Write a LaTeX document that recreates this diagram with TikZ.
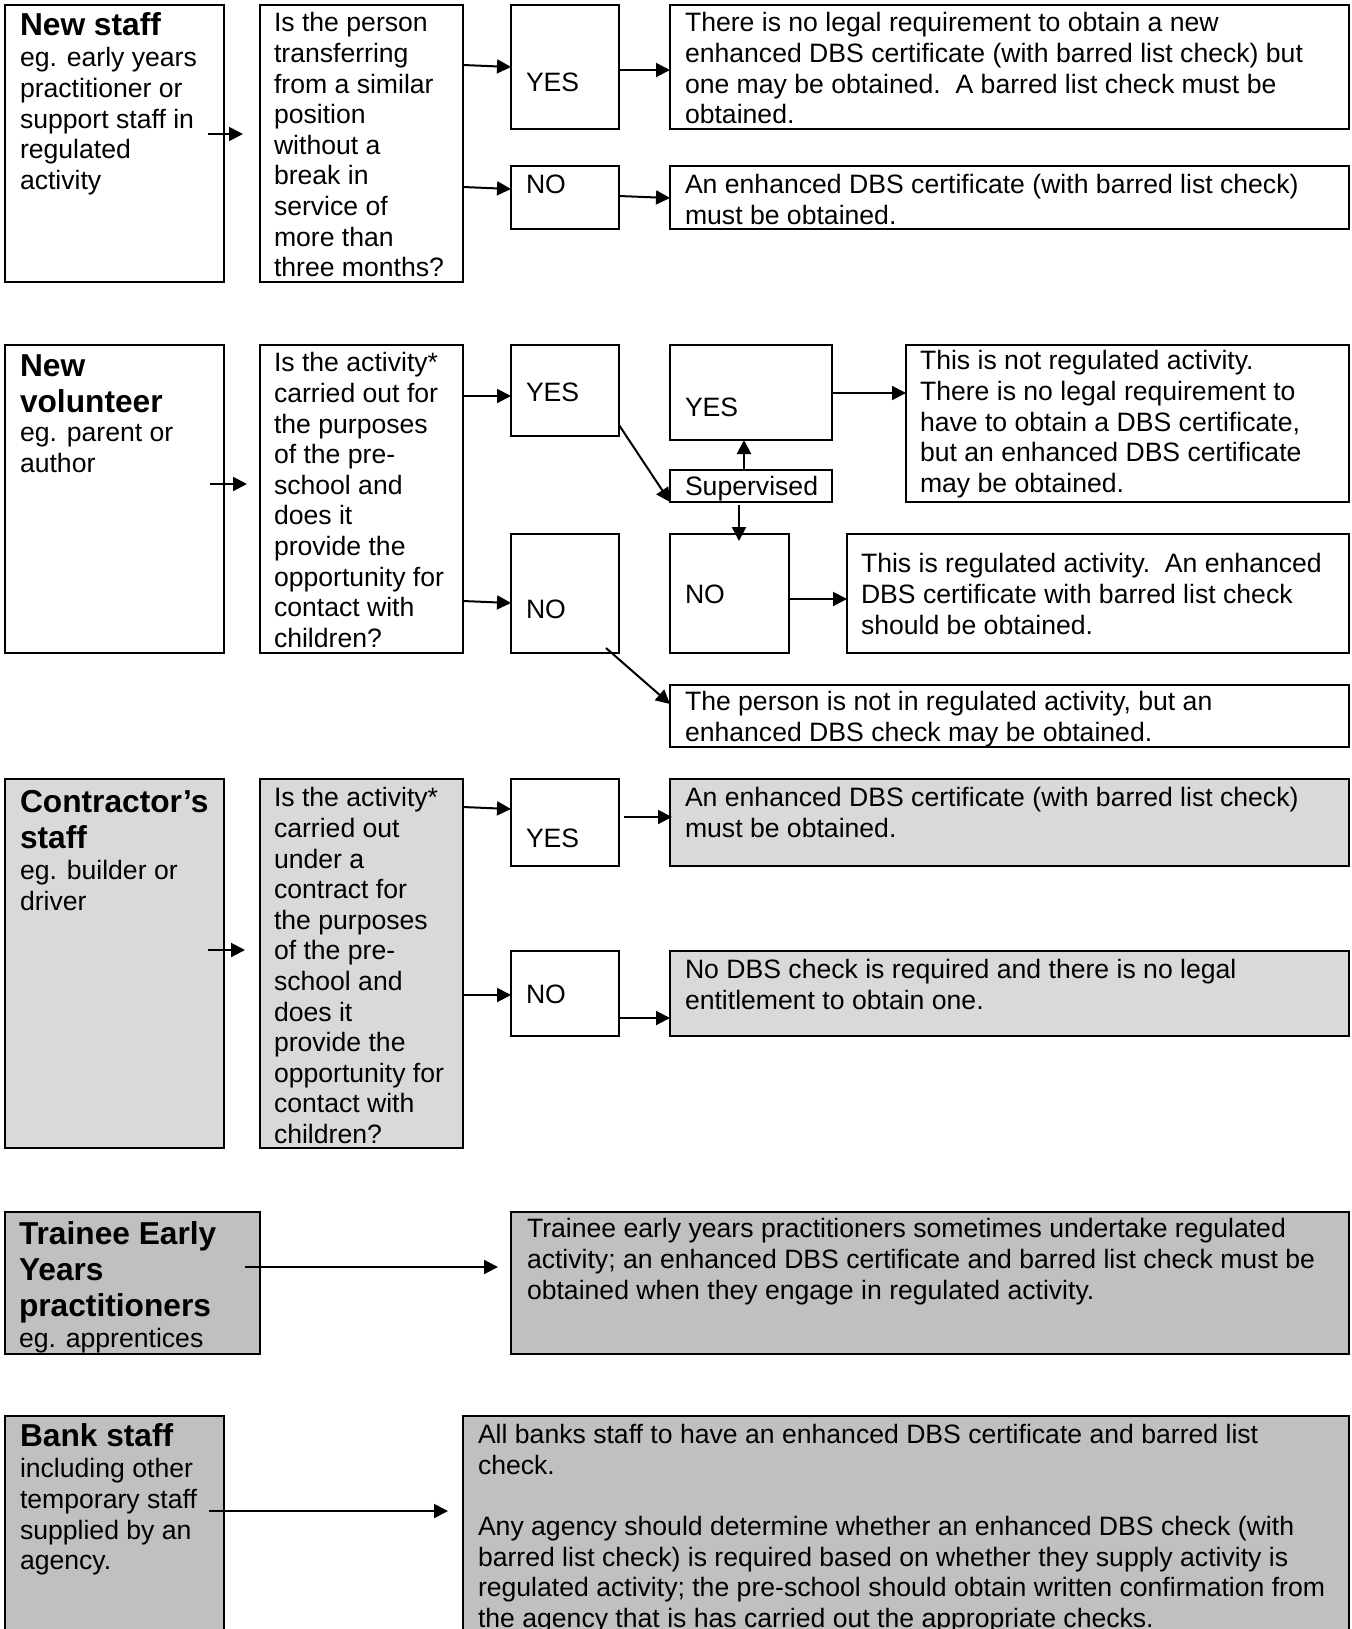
\documentclass[tikz,border=0pt]{standalone}
\usepackage{fontspec}
\setmainfont{Liberation Sans}
\usetikzlibrary{arrows.meta}
\definecolor{lightfill}{RGB}{217,217,217}
\definecolor{midfill}{RGB}{192,192,192}
\newcommand\bx[6]{\node[box,fill=#6,minimum width={(#4-#2)*0.5pt},minimum height={(#5-#3)*0.5pt}] (#1) at (#2,#3) {};}
\begin{document}
\begin{tikzpicture}[x=0.5pt,y=-0.5pt,
  box/.style={draw,line width=1pt,anchor=north west,inner sep=0pt,outer sep=0pt},
  bt/.style={anchor=north west,inner sep=0pt,outer sep=0pt,align=left,yshift=10.71pt,
    font=\fontsize{13.3pt}{15.3pt}\selectfont,execute at begin node=\strut},
  ht/.style={anchor=north west,inner sep=0pt,outer sep=0pt,align=left,yshift=11.85pt,
    font=\bfseries\fontsize{15.85pt}{18pt}\selectfont,execute at begin node=\strut},
  ml/.style={yshift=-1.55pt},
  arr/.style={-{Triangle[length=7pt,width=7pt]},line width=1pt}]
\clip (0,0) rectangle (1352,1629);
\fill[white] (0,0) rectangle (1352,1629);

% ---------- Row 1: New staff ----------
\bx{ns}{5}{5}{224}{282}{white}
\bx{q1}{260}{5}{463}{282}{white}
\bx{y1}{511}{5}{619}{129}{white}
\bx{n1}{511}{166}{619}{229}{white}
\bx{r1a}{670}{5}{1349}{129}{white}
\bx{r1b}{670}{166}{1349}{229}{white}
\node[ht] (ns-h) at (20,34) {New staff};
\node[bt,ml] (ns-b) at (20,66) {eg. early years\\practitioner or\\support staff in\\regulated\\activity};
\node[bt,ml] (q1-t) at (274,31) {Is the person\\transferring\\from a similar\\position\\without a\\break in\\service of\\more than\\three months?};
\node[bt] (y1-t) at (526,91) {YES};
\node[bt] (n1-t) at (526,193) {NO};
\node[bt,ml] (r1a-t) at (685,31) {There is no legal requirement to obtain a new\\enhanced DBS certificate (with barred list check) but\\one may be obtained.\ \ A barred list check must be\\obtained.};
\node[bt,ml] (r1b-t) at (685,193) {An enhanced DBS certificate (with barred list check)\\must be obtained.};
\draw[arr] ([shift={(-16,129)}]ns.north east) -- ([shift={(-17,129)}]q1.north west);
\draw[arr] ([shift={(0,60)}]q1.north east) -- ([shift={(0,62)}]y1.north west);
\draw[arr] ([shift={(0,182)}]q1.north east) -- ([shift={(0,23)}]n1.north west);
\draw[arr] ([shift={(0,65)}]y1.north east) -- ([shift={(0,65)}]r1a.north west);
\draw[arr] ([shift={(0,30)}]n1.north east) -- ([shift={(0,32)}]r1b.north west);

% ---------- Row 2: New volunteer ----------
\bx{nv}{5}{345}{224}{653}{white}
\bx{q2}{260}{345}{463}{653}{white}
\bx{y2}{511}{345}{619}{436}{white}
\bx{n2}{511}{534}{619}{653}{white}
\bx{y3}{670}{345}{832}{440}{white}
\bx{sup}{670}{470}{832}{502}{white}
\bx{n3}{670}{534}{789}{653}{white}
\bx{r2a}{906}{345}{1349}{502}{white}
\bx{r2b}{847}{534}{1349}{653}{white}
\bx{r2c}{670}{685}{1349}{747}{white}
\node[ht,ml] (nv-h) at (20,375) {New\\volunteer};
\node[bt,ml] (nv-b) at (20,443) {eg. parent or\\author};
\node[bt,ml] (q2-t) at (274,371) {Is the activity*\\carried out for\\the purposes\\of the pre-\\school and\\does it\\provide the\\opportunity for\\contact with\\children?};
\node[bt] (y2-t) at (526,401) {YES};
\node[bt] (n2-t) at (526,618) {NO};
\node[bt] (y3-t) at (685,416) {YES};
\node[bt] (sup-t) at (685,495) {Supervised};
\node[bt] (n3-t) at (685,603) {NO};
\node[bt,ml] (r2a-t) at (920,369) {This is not regulated activity.\\There is no legal requirement to\\have to obtain a DBS certificate,\\but an enhanced DBS certificate\\may be obtained.};
\node[bt,ml] (r2b-t) at (861,572) {This is regulated activity.\ \ An enhanced\\DBS certificate with barred list check\\should be obtained.};
\node[bt,ml] (r2c-t) at (685,710) {The person is not in regulated activity, but an\\enhanced DBS check may be obtained.};
\draw[arr] ([shift={(-14,139)}]nv.north east) -- ([shift={(-13,139)}]q2.north west);
\draw[arr] ([shift={(0,51)}]q2.north east) -- ([shift={(0,51)}]y2.north west);
\draw[arr] ([shift={(0,256)}]q2.north east) -- ([shift={(0,69)}]n2.north west);
\draw[arr] ([shift={(0,80)}]y2.north east) -- (sup.south west);
\draw[arr] ([shift={(74,0)}]sup.north west) -- ([shift={(74,0)}]y3.south west);
\draw[arr] ([shift={(69,3)}]sup.south west) -- ([shift={(69,7)}]n3.north west);
\draw[arr] ([shift={(0,48)}]y3.north east) -- ([shift={(0,48)}]r2a.north west);
\draw[arr] ([shift={(0,65)}]n3.north east) -- ([shift={(0,65)}]r2b.north west);
\draw[arr] ([shift={(-13,-5)}]n2.south east) -- ([shift={(0,19)}]r2c.north west);

% ---------- Row 3: Contractor's staff ----------
\bx{ct}{5}{779}{224}{1148}{lightfill}
\bx{q3}{260}{779}{463}{1148}{lightfill}
\bx{y4}{511}{779}{619}{866}{white}
\bx{n4}{511}{951}{619}{1036}{white}
\bx{r3a}{670}{779}{1349}{866}{lightfill}
\bx{r3b}{670}{951}{1349}{1036}{lightfill}
\node[ht,ml] (ct-h) at (20,811) {Contractor’s\\staff};
\node[bt,ml] (ct-b) at (20,879) {eg. builder or\\driver};
\node[bt,ml] (q3-t) at (274,806) {Is the activity*\\carried out\\under a\\contract for\\the purposes\\of the pre-\\school and\\does it\\provide the\\opportunity for\\contact with\\children?};
\node[bt] (y4-t) at (526,847) {YES};
\node[bt] (n4-t) at (526,1003) {NO};
\node[bt,ml] (r3a-t) at (685,806) {An enhanced DBS certificate (with barred list check)\\must be obtained.};
\node[bt,ml] (r3b-t) at (685,978) {No DBS check is required and there is no legal\\entitlement to obtain one.};
\draw[arr] ([shift={(-16,171)}]ct.north east) -- ([shift={(-15,171)}]q3.north west);
\draw[arr] ([shift={(0,28)}]q3.north east) -- ([shift={(0,30)}]y4.north west);
\draw[arr] ([shift={(0,216)}]q3.north east) -- ([shift={(0,44)}]n4.north west);
\draw[arr] ([shift={(5,38)}]y4.north east) -- ([shift={(2,38)}]r3a.north west);
\draw[arr] ([shift={(0,67)}]n4.north east) -- ([shift={(0,67)}]r3b.north west);

% ---------- Row 4: Trainee ----------
\bx{tr}{5}{1212}{260}{1354}{midfill}
\bx{r4}{511}{1212}{1349}{1354}{midfill}
\node[ht,ml] (tr-h) at (19,1242) {Trainee Early\\Years\\practitioners};
\node[bt] (tr-b) at (19,1347) {eg. apprentices};
\node[bt,ml] (r4-t) at (527,1237) {Trainee early years practitioners sometimes undertake regulated\\activity; an enhanced DBS certificate and barred list check must be\\obtained when they engage in regulated activity.};
\draw[arr] ([shift={(-15,55)}]tr.north east) -- ([shift={(-13,55)}]r4.north west);

% ---------- Row 5: Bank staff ----------
\bx{bk}{5}{1416}{224}{1660}{midfill}
\bx{r5}{463}{1416}{1349}{1660}{midfill}
\node[ht] (bk-h) at (20,1445) {Bank staff};
\node[bt,ml] (bk-b) at (20,1477) {including other\\temporary staff\\supplied by an\\agency.};
\node[bt,ml] (r5-t) at (478,1443) {All banks staff to have an enhanced DBS certificate and barred list\\check.\\ \\Any agency should determine whether an enhanced DBS check (with\\barred list check) is required based on whether they supply activity is\\regulated activity; the pre-school should obtain written confirmation from\\the agency that is has carried out the appropriate checks.};
\draw[arr] ([shift={(-15,95)}]bk.north east) -- ([shift={(-15,95)}]r5.north west);
\end{tikzpicture}
\end{document}
